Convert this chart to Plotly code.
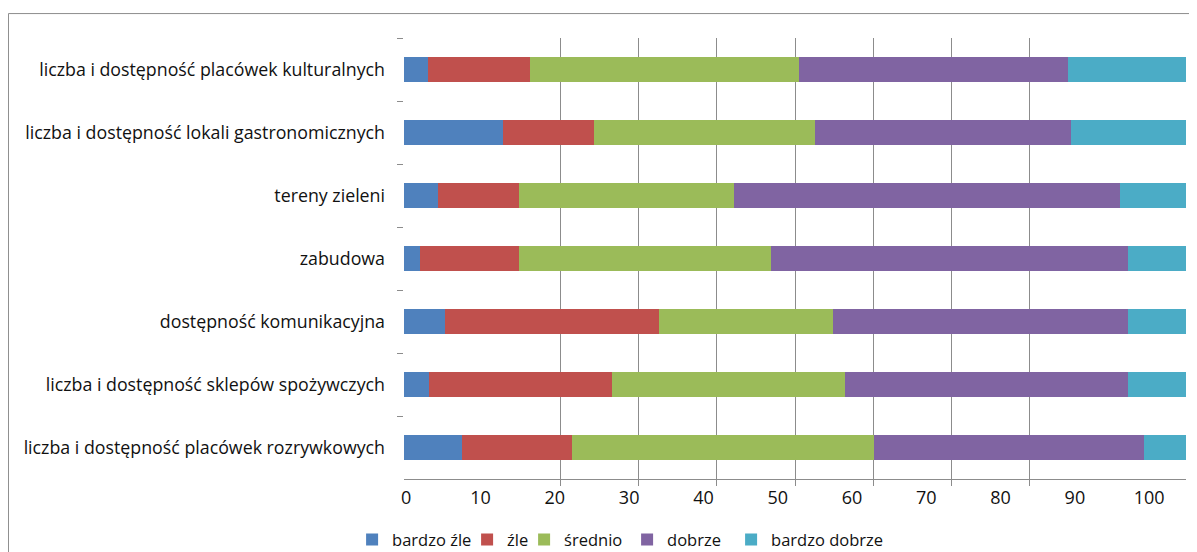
import plotly.graph_objects as go

categories = [
    "liczba i dostępność placówek kulturalnych",
    "liczba i dostępność lokali gastronomicznych",
    "tereny zieleni",
    "zabudowa",
    "dostępność komunikacyjna",
    "liczba i dostępność sklepów spożywczych",
    "liczba i dostępność placówek rozrywkowych",
]
series_names = ["bardzo źle", "źle", "średnio", "dobrze", "bardzo dobrze"]
bardzo_zle = [3.1, 12.6, 4.3, 2.1, 5.2, 3.2, 7.4]
zle = [13.0, 11.7, 10.4, 12.6, 27.4, 23.4, 14.1]
srednio = [34.4, 28.3, 27.5, 32.2, 22.2, 29.8, 38.6]
dobrze = [34.4, 32.7, 49.4, 45.7, 37.8, 36.2, 34.5]
bardzo_dobrze = [15.1, 14.7, 8.4, 7.4, 7.4, 7.4, 5.4]
tick_values = [0, 10, 20, 30, 40, 50, 60, 70, 80, 90, 100]
grid_values = [20, 30, 40, 50, 60, 70, 80]

colors = ["#4F81BD", "#C0504D", "#9BBB59", "#8064A2", "#4BACC6"]
legend_widths = [70, 12, 58, 59, 150]
values = [bardzo_zle, zle, srednio, dobrze, bardzo_dobrze]

FONT = "Open Sans"
TXT = "#111111"
GRID = "#8c8c8c"

fig = go.Figure()
for name, vals, col, lw in zip(series_names, values, colors, legend_widths):
    fig.add_trace(go.Bar(
        y=categories, x=vals, name=name, orientation="h",
        marker=dict(color=col, line=dict(width=0)),
        legendwidth=lw,
    ))

# invisible trace to carry the label axis
fig.add_trace(go.Scatter(x=[None], y=[None], xaxis="x2", yaxis="y",
                         showlegend=False, hoverinfo="skip"))

fig.update_layout(
    width=1189, height=544,
    barmode="stack", bargap=0.59,
    plot_bgcolor="white", paper_bgcolor="white",
    margin=dict(l=396, r=11, t=29.5, b=72.5, autoexpand=False),
    font=dict(family=FONT, size=17.8, color=TXT),
    xaxis=dict(
        range=[0, 100], tickmode="array", tickvals=grid_values,
        showticklabels=False, showgrid=True, gridcolor=GRID, gridwidth=1,
        ticks="outside", ticklen=6, tickcolor=GRID,
        showline=True, linecolor=GRID, linewidth=1, zeroline=False,
    ),
    xaxis2=dict(
        overlaying="x", side="bottom", range=[-0.3, 104.95],
        tickmode="array", tickvals=tick_values,
        showgrid=False, zeroline=False, showline=False, ticks="",
        tickfont=dict(family=FONT, size=18, color=TXT),
        ticklabelstandoff=6,
    ),
    yaxis=dict(
        categoryorder="array", categoryarray=categories, autorange="reversed",
        tickson="boundaries", ticks="outside", ticklen=6, tickcolor=GRID,
        showline=False, showgrid=False, zeroline=False,
        tickfont=dict(family=FONT, size=17.8, color=TXT),
        ticklabelstandoff=18,
    ),
    legend=dict(
        orientation="h", xref="container", yref="container",
        x=0.2894, xanchor="left", y=0.0225, yanchor="middle",
        font=dict(family=FONT, size=16.5, color=TXT),
        traceorder="normal", itemwidth=30,
    ),
    shapes=[dict(
        type="rect", xref="paper", yref="paper",
        x0=-0.5058, x1=1.03, y0=-0.2, y1=1.0554,
        line=dict(color="#8c8c8c", width=1), fillcolor="rgba(0,0,0,0)",
        layer="below",
    )],
)

fig.write_html("out.html")
